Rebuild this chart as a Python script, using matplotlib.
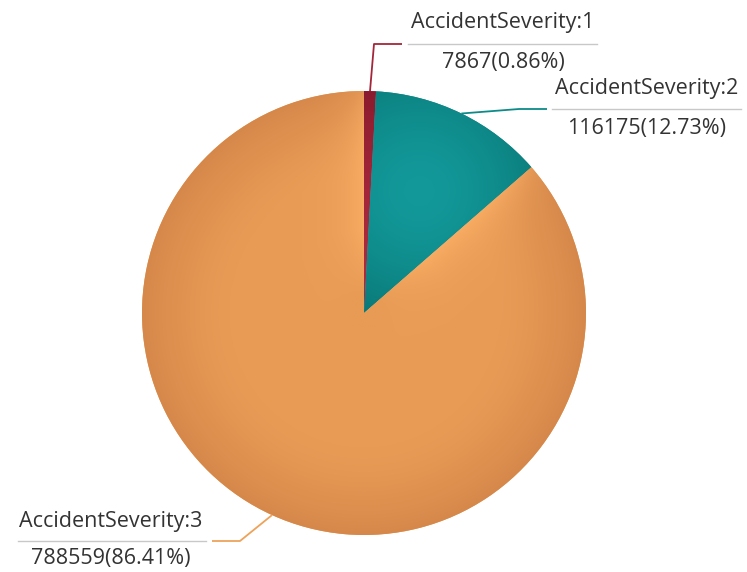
import numpy as np
import matplotlib
matplotlib.use("Agg")
import matplotlib.pyplot as plt
from matplotlib.colors import to_rgb

categories = ["AccidentSeverity:1", "AccidentSeverity:2", "AccidentSeverity:3"]
values = [7867, 116175, 788559]
base_colors = ["#a22538", "#0f8c8a", "#e89b55"]
light_colors = ["#ad2a3e", "#13999a", "#f8ac63"]
dark_colors = ["#8a1b2e", "#066e6c", "#d5884a"]
line_colors = ["#a3263a", "#0c8b89", "#eea25a"]

W, H = 747, 572
fig = plt.figure(figsize=(W / 100, H / 100), dpi=100)
ax = fig.add_axes([0, 0, 1, 1])

cx, cy, R = 364, H - 313, 222
wedges, _ = ax.pie(values, startangle=90, counterclock=False, center=(cx, cy),
                   radius=R, colors=base_colors,
                   wedgeprops=dict(linewidth=0))

n = 500
xs = np.linspace(cx - R, cx + R, n)
ys = np.linspace(cy - R, cy + R, n)
XX, YY = np.meshgrid(xs, ys)
DX, DY = XX - cx, YY - cy
rr = np.clip(np.hypot(DX, DY) / R, 0, 1)


def mix(a, b, t):
    a = np.array(to_rgb(a)); b = np.array(to_rgb(b))
    return a[None, None, :] * (1 - t[..., None]) + b[None, None, :] * t[..., None]


def ray_dist(theta_deg):
    ux, uy = np.cos(np.radians(theta_deg)), np.sin(np.radians(theta_deg))
    proj = DX * ux + DY * uy
    perp = np.abs(-DX * uy + DY * ux)
    return np.where(proj > 0, perp, np.hypot(DX, DY))


total = sum(values)
bounds = []
cum = 0
for v in values:
    a0 = 90 - cum / total * 360
    cum += v
    a1 = 90 - cum / total * 360
    bounds.append((a0, a1))

for i, w in enumerate(wedges):
    a0, a1 = bounds[i]
    if i == 2:
        # darker rim, lighter glow along the straight edges
        t_rim = np.clip((rr - 0.6) / 0.4, 0, 1) ** 1.5
        img = mix(base_colors[i], dark_colors[i], t_rim)
        d = np.minimum(ray_dist(a0), ray_dist(a1 + 360 if a1 < -180 else a1))
        glow = np.exp(-d / 22.0) * np.clip((rr - 0.08) / 0.3, 0, 1) * (1 - 0.5 * t_rim)
        img = img * (1 - glow[..., None]) + np.array(to_rgb(light_colors[i]))[None, None, :] * glow[..., None]
    elif i == 1:
        gx, gy = cx + 0.25 * R, cy + 0.55 * R
        rg = np.clip(np.hypot(XX - gx, YY - gy) / (0.72 * R), 0, 1)
        img = mix(light_colors[i], dark_colors[i], rg ** 1.6)
    else:
        img = mix(light_colors[i], dark_colors[i], rr ** 2)
    im = ax.imshow(img, origin="lower", extent=(cx - R, cx + R, cy - R, cy + R),
                   zorder=2, interpolation="bilinear")
    im.set_clip_path(w)

# label layouts (pixel coordinates measured from top)
layouts = [
    dict(elbow=(374, 44), end=(402, 44), ul=(408, 597, 44), tx=503, ty=(28, 68)),
    dict(elbow=(519, 109), end=(547, 109), ul=(552, 741, 109), tx=647, ty=(94, 134)),
    dict(elbow=(240, 541), end=(212, 541), ul=(18, 206, 541), tx=111, ty=(527, 564)),
]

for i, (v, lay) in enumerate(zip(values, layouts)):
    a0, a1 = bounds[i]
    mid = (a0 + a1) / 2
    sx = cx + R * np.cos(np.radians(mid))
    sy = cy + R * np.sin(np.radians(mid))
    ex, ey = lay["elbow"]
    fx, fy = lay["end"]
    ax.plot([sx, ex, fx], [sy, H - ey, H - fy], color=line_colors[i], lw=1.3,
            zorder=3, solid_capstyle="butt")
    x0, x1, uy = lay["ul"]
    ax.plot([x0, x1], [H - uy, H - uy], color="#c8c8c8", lw=1.0, zorder=3)
    pct = v / total * 100
    ax.text(lay["tx"], H - lay["ty"][0], categories[i], ha="center", va="baseline",
            fontsize=15.5, color="#333333", family="Open Sans")
    ax.text(lay["tx"], H - lay["ty"][1], f"{v}({pct:.2f}%)", ha="center",
            va="baseline", fontsize=15.5, color="#333333", family="Open Sans")

ax.set_xlim(0, W)
ax.set_ylim(0, H)
ax.set_aspect("equal")
ax.axis("off")
fig.savefig("out.png", dpi=100)
